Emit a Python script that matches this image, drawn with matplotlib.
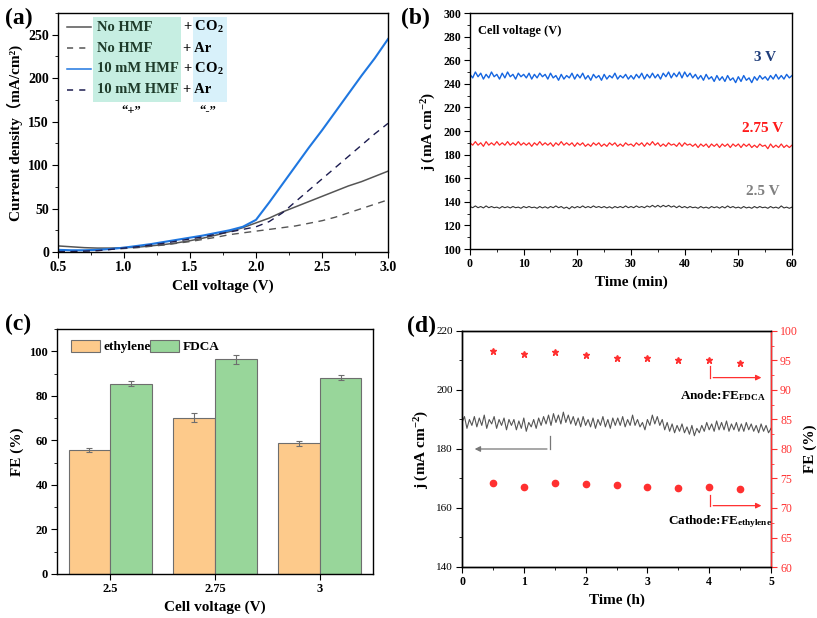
import numpy as np
import matplotlib
matplotlib.use("Agg")
import matplotlib.pyplot as plt
from matplotlib.lines import Line2D
from matplotlib.patches import Rectangle
from matplotlib.ticker import MultipleLocator

plt.rcParams['font.family'] = ['Liberation Serif', 'Noto Sans CJK SC']
plt.rcParams['font.weight'] = 'bold'
plt.rcParams['axes.labelweight'] = 'bold'
plt.rcParams['mathtext.default'] = 'regular'
plt.rcParams['axes.linewidth'] = 1.0

# ---- (a) LSV curves ----
volt = [0.5, 0.6, 0.7, 0.8, 0.9, 1.0, 1.1, 1.2, 1.3, 1.4, 1.5, 1.6, 1.7,
        1.8, 1.9, 2.0, 2.1, 2.2, 2.3, 2.4, 2.5, 2.6, 2.7, 2.8, 2.9, 3.0]
nohmf_co2 = [7, 6, 5, 4.5, 4.5, 5, 5.5, 7, 8.5, 10.5, 13, 16, 19.5,
             23.5, 28, 33.5, 39, 46, 52, 58, 64, 70, 76, 81, 87, 93]
nohmf_ar = [1, 1, 1.5, 2, 3, 4, 5, 6.5, 8, 10, 12, 14.5, 17,
            20, 22, 24, 26, 28, 30, 33, 36, 40, 45, 50, 55, 60]
hmf_co2 = [2.5, 2, 2, 2.5, 3.5, 5, 7, 9, 11.5, 14, 16.5, 19, 22,
           25, 29, 37, 57, 78, 99, 120, 140, 161, 182, 203, 223, 245]
hmf_ar = [0.5, 0.5, 1, 1.5, 3, 4.5, 6, 8, 10, 12.5, 15, 17.5, 20.5,
          23, 26, 29, 35, 45, 58, 71, 84, 97, 110, 123, 136, 148]

legend_left = ['No HMF', 'No HMF', '10 mM HMF', '10 mM HMF']
legend_right = ['+ CO$_2$', '+ Ar', '+ CO$_2$', '+ Ar']

# ---- (b) chronoamperometry at fixed voltages ----
blue_b = [248, 245, 250, 246, 249, 244, 248, 245, 250, 246, 248, 244, 249, 245, 250, 246, 248, 244, 249, 246,
          248, 245, 249, 244, 248, 245, 249, 246, 248, 244, 249, 245, 247, 243, 248, 244, 247, 245, 249, 244,
          248, 245, 249, 244, 247, 243, 248, 245, 247, 243, 248, 244, 247, 245, 249, 244, 247, 245, 248, 244,
          247, 244, 248, 245, 249, 244, 248, 245, 249, 245, 248, 244, 249, 246, 250, 245, 249, 246, 250, 245,
          250, 246, 249, 245, 248, 244, 247, 243, 248, 244, 246, 242, 247, 243, 246, 242, 247, 243, 245, 241,
          246, 242, 247, 243, 245, 241, 246, 243, 247, 244, 246, 243, 247, 244, 248, 244, 247, 244, 248, 245, 247]
red_b = [190, 188, 191, 188, 190, 187, 191, 188, 190, 188, 191, 188, 190, 188, 191, 188, 190, 188, 191, 188,
         190, 188, 190, 187, 190, 188, 191, 188, 190, 188, 190, 187, 190, 188, 191, 188, 190, 188, 190, 187,
         190, 188, 190, 187, 189, 187, 190, 188, 190, 187, 189, 187, 190, 188, 190, 187, 189, 187, 190, 188,
         189, 187, 190, 188, 190, 187, 190, 188, 191, 188, 190, 187, 189, 187, 190, 188, 189, 187, 190, 187,
         190, 188, 189, 187, 189, 186, 189, 187, 189, 186, 189, 187, 189, 186, 189, 187, 189, 186, 189, 187,
         189, 186, 189, 187, 189, 186, 188, 186, 189, 187, 188, 185, 189, 186, 188, 186, 189, 186, 188, 186, 188]
gray_b = [136, 135, 136.5, 135, 136, 134.8, 136.5, 135, 136, 135, 135.5, 134.5, 136, 135, 135.8, 134.8, 136, 135, 135.5, 134.5,
          136, 135, 136, 135, 135.5, 134.5, 136, 134.8, 135.8, 134.6, 136, 135, 136.5, 135, 136, 134.5, 135.5, 134, 136, 134.8,
          136, 135, 136.5, 135, 136, 135, 136.5, 135.2, 136, 135, 136, 134.8, 135.8, 134.6, 136, 135, 136, 135, 136.5, 135,
          136, 135, 136.5, 135.2, 136, 135, 136.5, 135.5, 137, 135.5, 137, 135.5, 137, 135.8, 137, 135.5, 136.5, 135, 136.5, 135,
          136, 134.8, 136, 135, 135.5, 134.5, 136, 134.8, 135.5, 134.5, 136, 135, 135.8, 134.6, 136, 134.8, 136.5, 135, 136, 134.8,
          135.5, 134.5, 136, 134.8, 135.5, 134.5, 136, 134.8, 136, 135, 135.5, 134.5, 136, 134.8, 135.5, 134.5, 136.5, 134.8, 135.5, 134.5, 135.5]

# ---- (c) FE bars ----
cell_v = ['2.5', '2.75', '3']
fe_ethylene = [55.7, 70.2, 58.6]
err_ethylene = [1.0, 2.0, 1.2]
fe_fdca = [85.5, 96.5, 88.2]
err_fdca = [1.0, 2.0, 1.2]

# ---- (d) stability ----
j_d = [189, 191, 187, 190, 188, 191, 187.5, 190.5, 188, 191.5, 187, 190, 188.5, 191, 187, 190, 188, 190.5, 186.5, 190, 188,
       190, 186.5, 189.5, 187, 190.5, 186, 189, 187.5, 190, 187, 190.5, 188, 191, 188.5, 191.5, 188, 192, 189, 191.5, 188.5, 192.5,
       189, 191.5, 188.5, 191, 188, 190.5, 187.5, 191, 188, 190, 187.5, 190.5, 187, 190, 188, 191, 187.5, 190, 187, 190.5, 188,
       190.5, 188, 191, 187.5, 190, 188, 191.5, 188, 190, 187.5, 189, 186.5, 190, 188, 191.5, 188.5, 191, 188, 190, 186.5, 189,
       186, 188.5, 185.5, 188, 186, 188.5, 185.5, 187.5, 185, 188, 184.5, 187, 185.5, 188, 186, 189, 186.5, 188.5, 186, 189.5, 186.5,
       189, 186.5, 189.5, 186, 188.5, 186.5, 189, 186, 188.5, 186, 189, 186.5, 188.5, 186, 188, 185.5, 188.5, 186, 188, 185.5, 187]
t_fe = [0.5, 1.0, 1.5, 2.0, 2.5, 3.0, 3.5, 4.0, 4.5]
fe_fdca_t = [96.6, 96.1, 96.5, 96.0, 95.5, 95.4, 95.0, 95.1, 94.6]
fe_eth_t = [74.2, 73.5, 74.2, 74.0, 73.9, 73.6, 73.4, 73.5, 73.3]

W, H = 817, 618
fig = plt.figure(figsize=(W / 100, H / 100), dpi=100)


def box(l, t, r, b):
    return [l / W, 1 - b / H, (r - l) / W, (b - t) / H]


def style(ax, size=8.5):
    ax.tick_params(which='both', direction='out', top=False, right=False, labelsize=size, pad=2.5)
    ax.tick_params(which='major', length=4)
    ax.tick_params(which='minor', length=2)


# (a)
ax = fig.add_axes(box(58, 13, 388, 252))
ax.plot(volt, nohmf_co2, color='#555555', lw=1.1)
ax.plot(volt, nohmf_ar, color='#555555', lw=1.0, ls=(0, (5, 4)))
ax.plot(volt, hmf_co2, color='#1f77e0', lw=1.5)
ax.plot(volt, hmf_ar, color='#1c1c50', lw=1.0, ls=(0, (5, 4)))
ax.set_xlim(0.5, 3.0)
ax.set_ylim(0, 275)
ax.xaxis.set_major_locator(MultipleLocator(0.5))
ax.xaxis.set_minor_locator(MultipleLocator(0.25))
ax.yaxis.set_major_locator(MultipleLocator(50))
ax.yaxis.set_minor_locator(MultipleLocator(25))
style(ax, 10)
ax.set_xlabel('Cell voltage (V)', fontsize=11)
ax.set_ylabel('Current density（mA/cm²)', fontsize=11)
ax.add_patch(Rectangle((0.106, 0.628), 0.267, 0.355, transform=ax.transAxes,
                       facecolor='#c6eee2', edgecolor='none'))
ax.add_patch(Rectangle((0.409, 0.628), 0.103, 0.355, transform=ax.transAxes,
                       facecolor='#d8f1fa', edgecolor='none'))
rows = [0.941, 0.853, 0.766, 0.678]
lstyles = [('#555555', '-'), ('#555555', (0, (4, 4))), ('#1f77e0', '-'), ('#1c1c50', (0, (4, 4)))]
for yy, lt, rt, (c, s) in zip(rows, legend_left, legend_right, lstyles):
    ax.add_line(Line2D([0.027, 0.1], [yy, yy], transform=ax.transAxes, color=c, ls=s, lw=1.1))
    ax.text(0.118, yy, lt, transform=ax.transAxes, va='center', ha='left',
            fontsize=10.5, color='#1e3b2a')
    ax.text(0.379, yy, rt, transform=ax.transAxes, va='center', ha='left', fontsize=10.5)
ax.text(0.221, 0.59, '“+”', transform=ax.transAxes, ha='center', va='center', fontsize=9)
ax.text(0.455, 0.59, '“-”', transform=ax.transAxes, ha='center', va='center', fontsize=9)
fig.text(5 / W, 1 - 18 / H, '(a)', fontsize=17, va='center', ha='left')

# (b)
ax = fig.add_axes(box(470, 13, 792, 249))
tb = np.linspace(0, 60, len(blue_b))
ax.plot(tb, blue_b, color='#1565e0', lw=1.0)
ax.plot(tb, red_b, color='#ff2a2a', lw=0.9)
ax.plot(tb, gray_b, color='#333333', lw=0.8)
ax.set_xlim(0, 60)
ax.set_ylim(100, 300)
ax.xaxis.set_major_locator(MultipleLocator(10))
ax.xaxis.set_minor_locator(MultipleLocator(5))
ax.yaxis.set_major_locator(MultipleLocator(20))
ax.yaxis.set_minor_locator(MultipleLocator(10))
style(ax, 8.5)
ax.set_xlabel('Time (min)', fontsize=11)
ax.set_ylabel('j (mA cm$^{-2}$)', fontsize=11)
ax.text(1.5, 284.5, 'Cell voltage (V)', fontsize=9, va='center', ha='left')
ax.text(55, 262, '3 V', color='#1f3d7a', fontsize=11, ha='center', va='center')
ax.text(54.6, 202.5, '2.75 V', color='#ff1a1a', fontsize=11, ha='center', va='center')
ax.text(54.6, 149, '2.5 V', color='#808080', fontsize=11, ha='center', va='center')
fig.text(401 / W, 1 - 18 / H, '(b)', fontsize=17, va='center', ha='left')

# (c)
ax = fig.add_axes(box(57, 329, 373, 574))
xc = np.arange(len(cell_v))
bw = 0.40
ax.bar(xc - bw / 2, fe_ethylene, bw, yerr=err_ethylene, color='#fdca8b',
       edgecolor='#6e6e6e', lw=0.8, capsize=2, ecolor='#6e6e6e',
       error_kw=dict(elinewidth=0.8, capthick=0.8), label='ethylene')
ax.bar(xc + bw / 2, fe_fdca, bw, yerr=err_fdca, color='#98d69a',
       edgecolor='#6e6e6e', lw=0.8, capsize=2, ecolor='#6e6e6e',
       error_kw=dict(elinewidth=0.8, capthick=0.8), label='FDCA')
ax.set_xlim(-0.51, 2.51)
ax.set_ylim(0, 110)
ax.set_xticks(xc)
ax.set_xticklabels(cell_v)
ax.yaxis.set_major_locator(MultipleLocator(20))
ax.yaxis.set_minor_locator(MultipleLocator(10))
style(ax, 9)
ax.set_xlabel('Cell voltage (V)', fontsize=11)
ax.set_ylabel('FE (%)', fontsize=11)
ax.legend(loc='upper left', ncol=2, frameon=False, fontsize=9.5, handlelength=2.2,
          handleheight=1.1, handletextpad=0.25, columnspacing=0.0,
          borderaxespad=0.4, bbox_to_anchor=(0.01, 1.0))
fig.text(5 / W, 1 - 324 / H, '(c)', fontsize=17, va='center', ha='left')

# (d)
ax = fig.add_axes(box(462, 331, 771, 567))
td = np.linspace(0, 5, len(j_d))
ax.plot(td, j_d, color='#555555', lw=0.8)
ax.set_xlim(0, 5)
ax.set_ylim(140, 220)
ax.xaxis.set_major_locator(MultipleLocator(1))
ax.xaxis.set_minor_locator(MultipleLocator(0.5))
ax.yaxis.set_major_locator(MultipleLocator(20))
ax.yaxis.set_minor_locator(MultipleLocator(10))
style(ax, 8.5)
for lab in ax.get_yticklabels():
    lab.set_fontweight('normal')
    lab.set_fontsize(8)
ax.set_xlabel('Time (h)', fontsize=11)
ax.set_ylabel('j (mA cm$^{-2}$)', fontsize=11)
ax.plot([1.42, 1.42], [184.4, 180.0], color='#777777', lw=0.9)
ax.annotate('', xy=(0.16, 180.0), xytext=(1.42, 180.0),
            arrowprops=dict(arrowstyle='-|>', color='#777777', lw=0.9, mutation_scale=8))
ax2 = ax.twinx()
ax2.plot(t_fe, fe_fdca_t, ls='none', marker='*', ms=5, color='#ff3030')
ax2.plot(t_fe, fe_eth_t, ls='none', marker='o', ms=4.5, color='#ff3030')
ax2.set_ylim(60, 100)
ax2.yaxis.set_major_locator(MultipleLocator(5))
ax2.yaxis.set_minor_locator(MultipleLocator(2.5))
ax2.tick_params(which='both', direction='out', colors='#ff3030', labelsize=8.5, pad=2.5)
ax2.tick_params(which='major', length=4)
ax2.tick_params(which='minor', length=2)
for lab in ax2.get_yticklabels():
    lab.set_fontweight('normal')
ax2.spines['right'].set_color('#ff3030')
ax2.set_ylabel('FE (%)', fontsize=11)
for y0, y1 in [(94.1, 92.1), (72.2, 70.4)]:
    ax2.plot([4.02, 4.02], [y0, y1], color='#ff3030', lw=0.9)
    ax2.annotate('', xy=(4.89, y1), xytext=(4.02, y1),
                 arrowprops=dict(arrowstyle='-|>', color='#ff3030', lw=0.9, mutation_scale=8))
ax2.text(4.23, 89.0, 'Anode:FE$_{FDCA}$', fontsize=9.5, ha='center', va='center')
ax2.text(4.18, 67.7, 'Cathode:FE$_{ethylene}$', fontsize=9.5, ha='center', va='center')
fig.text(407 / W, 1 - 326 / H, '(d)', fontsize=17, va='center', ha='left')

fig.savefig('out.png', dpi=100)
